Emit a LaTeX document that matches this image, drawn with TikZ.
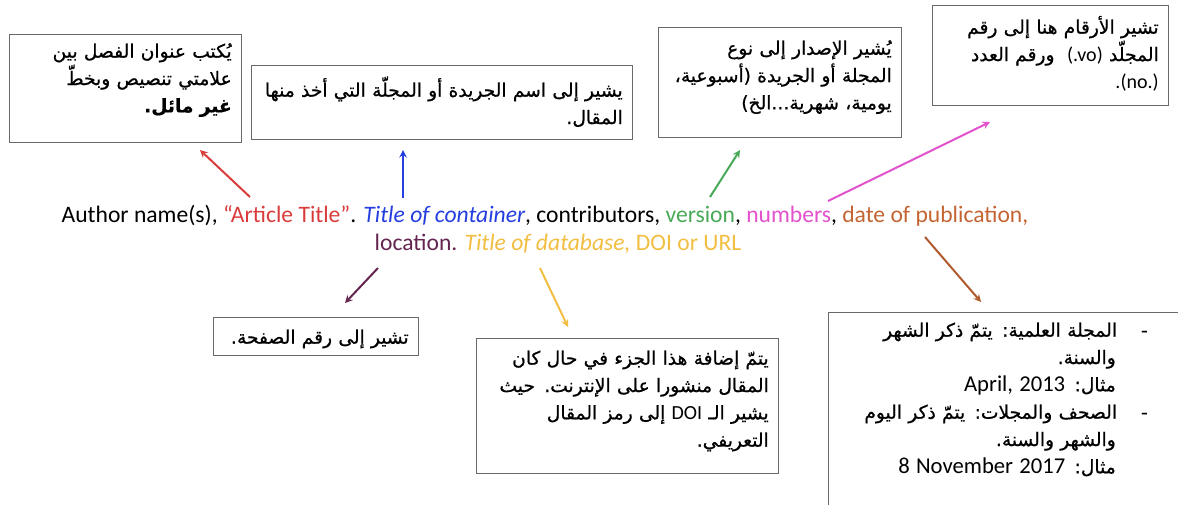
\documentclass[tikz,border=0pt]{standalone}
\usepackage{fontspec}
\setmainfont{Carlito}
\newfontfamily\latinfont{Carlito}
\newfontfamily\arabicfont[Script=Arabic, RawFeature={embolden=0.7}]{DejaVu Sans}
\TeXXeTstate=1
\usetikzlibrary{arrows}

\newdimen\px \px=0.75pt
\newcommand{\rl}[1]{\beginR #1\endR}
\newcommand{\lr}[2][15]{\beginL{\latinfont\fontsize{#1}{20}\selectfont #2}\endL}

\definecolor{titlered}{RGB}{218,60,60}
\definecolor{contblue}{RGB}{36,62,224}
\definecolor{versgreen}{RGB}{72,170,88}
\definecolor{numpink}{RGB}{226,82,204}
\definecolor{datebrown}{RGB}{196,100,50}
\definecolor{locplum}{RGB}{100,38,80}
\definecolor{dbyellow}{RGB}{242,190,66}
\definecolor{boxgray}{RGB}{105,105,105}

\tikzstyle{citation} = [inner sep=0pt, align=center, font=\fontsize{17.7}{21}\selectfont]
\tikzstyle{note} = [rectangle, draw=boxgray, line width=1.1pt, anchor=north west, inner ysep=0pt, inner xsep=7.5pt, align=right, font=\arabicfont\fontsize{14}{20.5}\selectfont]
\tikzstyle{arrow} = [line width=1.5pt,->,>=stealth]

\begin{document}
\begin{tikzpicture}[x=0.75pt,y=-0.75pt]
\useasboundingbox (0,0) rectangle (1178,504);
\clip (0,0) rectangle (1178,504);

% the reference line
\node (cite) [citation] at (545,229) {Author name(s), \textcolor{titlered}{“Article Title”}. \textcolor{contblue}{\itshape Title of container}, contributors, \textcolor{versgreen}{version}, \textcolor{numpink}{numbers}, \textcolor{datebrown}{date of publication,}\\
\hspace*{26\px}\textcolor{locplum}{location.} \textcolor{dbyellow}{\itshape Title of database,} \textcolor{dbyellow}{DOI or URL}};

% notes
\node (title) [note, text width=159pt, text height=17.25pt, text depth=63.75pt] at (9,34)
  {\rl{يُكتب عنوان الفصل بين}\\ \rl{علامتي تنصيص وبخطّ}\\ \rl{\bfseries غير مائل.}};
\node (container) [note, text width=270.75pt, text height=23.25pt, text depth=32.25pt] at (251,65)
  {\rl{يشير إلى اسم الجريدة أو المجلّة التي أخذ منها}\\ \rl{المقال.}};
\node (version) [note, text width=167.25pt, text height=20.25pt, text depth=62.25pt] at (658,27)
  {\rl{يُشير الإصدار إلى نوع}\\ \rl{المجلة أو الجريدة (أسبوعية،}\\ \rl{يومية، شهرية...الخ)}};
\node (numbers) [note, text width=162pt, text height=21pt, text depth=54pt] at (932,5)
  {\rl{تشير الأرقام هنا إلى رقم}\\ \rl{المجلّد \lr{(.vo)}\ \ ورقم العدد}\\ \rl{\lr{.(no.)}}};
\node (location) [note, text width=138.75pt, text height=19.5pt, text depth=9pt] at (213,317)
  {\rl{تشير إلى رقم الصفحة.}};
\node (database) [note, text width=211.5pt, text height=19.5pt, text depth=81.75pt] at (476,338)
  {\rl{يتمّ إضافة هذا الجزء في حال كان}\\ \rl{المقال منشورا على الإنترنت. حيث}\\ \rl{يشير الـ \lr{DOI} إلى رمز المقال}\\ \rl{التعريفي.}};
\node (date) [note, text width=264pt, text height=18pt, text depth=145.5pt] at (828,312)
  {\rl{\kern43\px-\kern24\px المجلة العلمية: يتمّ ذكر الشهر}\\
   \rl{\kern75\px والسنة.}\\
   \rl{\kern75\px مثال: \lr[17]{April, 2013}}\\
   \rl{\kern43\px-\kern24\px الصحف والمجلات: يتمّ ذكر اليوم}\\
   \rl{\kern75\px والشهر والسنة.}\\
   \rl{\kern75\px مثال: \lr[17]{8 November 2017}}};

% arrow ends
\coordinate (sTitle) at (250,197);    \coordinate (eTitle) at (200,150);
\coordinate (sCont) at (403,198);     \coordinate (eCont) at (403,150);
\coordinate (sVers) at (710,197);     \coordinate (eVers) at (740,150);
\coordinate (sNum) at (828,201);      \coordinate (eNum) at (990,122);
\coordinate (sDate) at (925,237);     \coordinate (eDate) at (981,302);
\coordinate (sLoc) at (378,268);      \coordinate (eLoc) at (345,303);
\coordinate (sDb) at (540,268);       \coordinate (eDb) at (568,327);

\draw [arrow, titlered] (sTitle) -- (eTitle);
\draw [arrow, contblue] (sCont) -- (eCont);
\draw [arrow, versgreen] (sVers) -- (eVers);
\draw [arrow, numpink] (sNum) -- (eNum);
\draw [arrow, datebrown!90!black] (sDate) -- (eDate);
\draw [arrow, locplum] (sLoc) -- (eLoc);
\draw [arrow, dbyellow] (sDb) -- (eDb);
\end{tikzpicture}
\end{document}
